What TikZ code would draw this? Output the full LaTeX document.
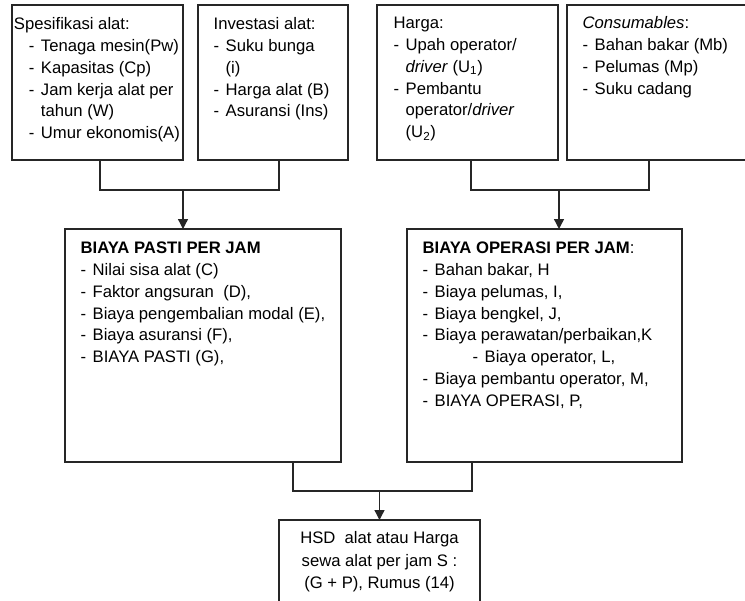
\documentclass[tikz,border=0pt]{standalone}
\usepackage{fontspec}
\setmainfont{Liberation Sans}
\usetikzlibrary{arrows.meta,calc}

\newcommand{\li}[1]{\makebox[9pt][l]{-}#1}
\newcommand{\cont}{\hspace*{9pt}}

\tikzset{
	box/.style={draw={rgb, 255:red, 38; green, 38; blue, 38}, inner sep=0pt, outer sep=0pt},
	txt/.style={align=left, inner sep=0pt, anchor=north west, font=\fontsize{12.5}{16.35}\selectfont},
	link/.style={draw={rgb, 255:red, 38; green, 38; blue, 38}},
	arr/.style={link, -{Triangle[length=7.5pt,width=7.5pt]}}}
\tikzset{every picture/.style={line width=1pt}}

\begin{document}
\begin{tikzpicture}[x=0.75pt,y=0.75pt,yscale=-1,xscale=1]
	\clip (0,0) rectangle (745,600);

	%Shape: Rectangle [spek]
	\node[box, minimum width=128.25pt, minimum height=116.25pt] (spek) at (97.5,82.5) {};
	%Shape: Rectangle [invest]
	\node[box, minimum width=112.5pt, minimum height=116.25pt] (invest) at (273,82.5) {};
	%Shape: Rectangle [harga]
	\node[box, minimum width=135.75pt, minimum height=116.25pt] (harga) at (467.5,82.5) {};
	%Shape: Rectangle [cons]
	\node[box, minimum width=146.25pt, minimum height=116.25pt] (cons) at (664.5,82.5) {};
	%Shape: Rectangle [pasti]
	\node[box, minimum width=207pt, minimum height=174.75pt] (pasti) at (203,345.5) {};
	%Shape: Rectangle [operasi]
	\node[box, minimum width=206.25pt, minimum height=174.75pt] (operasi) at (544.5,345.5) {};
	%Shape: Rectangle [hsd]
	\node[box, minimum width=150.75pt, minimum height=71.25pt] (hsd) at (379.5,567.5) {};

	% Text Node
	\node[txt] (spektxt) at ($(spek.north west)+(1.3,8.7)$) {\strut Spesifikasi alat:\\
		\hspace*{11.25pt}\li{Tenaga mesin(Pw)}\\
		\hspace*{11.25pt}\li{Kapasitas (Cp)}\\
		\hspace*{11.25pt}\li{Jam kerja alat per}\\
		\hspace*{11.25pt}\cont tahun (W)\\
		\hspace*{11.25pt}\li{Umur ekonomis(A)}};
	% Text Node
	\node[txt] (investtxt) at ($(invest.north west)+(15,8.7)$) {\strut Investasi alat:\\
		\li{Suku bunga}\\
		\cont(i)\\
		\li{Harga alat (B)}\\
		\li{Asuransi (Ins)}};
	% Text Node
	\node[txt] (hargatxt) at ($(harga.north west)+(16,7.7)$) {\strut Harga:\\
		\li{Upah operator/}\\
		\cont\textit{driver} (U\textsubscript{1})\\
		\li{Pembantu}\\
		\cont operator/\textit{driver}\\
		\cont(U\textsubscript{2})};
	% Text Node
	\node[txt] (constxt) at ($(cons.north west)+(15,7.7)$) {\strut\textit{Consumables}:\\
		\li{Bahan bakar (Mb)}\\
		\li{Pelumas (Mp)}\\
		\li{Suku cadang}};
	% Text Node
	\node[txt] (pastitxt) at ($(pasti.north west)+(15,8.7)$) {\strut\textbf{BIAYA PASTI PER JAM}\\
		\li{Nilai sisa alat (C)}\\
		\li{Faktor angsuran~ (D),}\\
		\li{Biaya pengembalian modal (E),}\\
		\li{Biaya asuransi (F),}\\
		\li{BIAYA PASTI (G),}};
	% Text Node
	\node[txt] (operasitxt) at ($(operasi.north west)+(15,8.7)$) {\strut\textbf{BIAYA OPERASI PER JAM}:\\
		\li{Bahan bakar, H}\\
		\li{Biaya pelumas, I,}\\
		\li{Biaya bengkel, J,}\\
		\li{Biaya perawatan/perbaikan,K}\\
		\hspace*{37.5pt}\li{Biaya operator, L,}\\
		\li{Biaya pembantu operator, M,}\\
		\li{BIAYA OPERASI, P,}};
	% Text Node
	\node[txt, align=center, anchor=north, font=\fontsize{12.5}{16.9}\selectfont] (hsdtxt) at ($(hsd.north)+(0,7.2)$) {\strut HSD~ alat atau Harga\\
		sewa alat per jam S :\\
		(G + P), Rumus (14)};

	%Straight Lines
	\coordinate (j1) at (183,190);
	\coordinate (j2) at (559,190);
	\coordinate (j3) at (379.5,491);
	\draw[link] ($(spek.south)+(2.5,0)$) |- (j1) -| ($(invest.south)+(6,0)$);
	\draw[arr] (j1) -- (j1 |- pasti.north);
	\draw[link] ($(harga.south)+(3.5,0)$) |- (j2) -| ($(cons.south west)+(82,0)$);
	\draw[arr] (j2) -- (j2 |- operasi.north);
	\draw[link] ($(pasti.south)+(90,0)$) |- (j3) -| ($(operasi.south)+(-72.5,0)$);
	\draw[arr] (j3) -- (hsd.north);

\end{tikzpicture}
\end{document}
